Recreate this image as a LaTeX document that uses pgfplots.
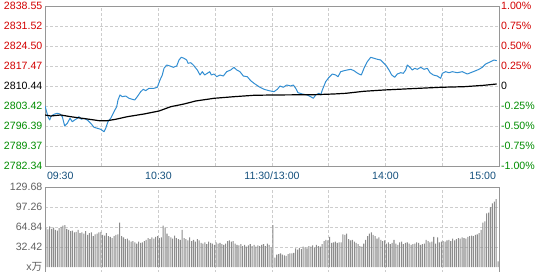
\documentclass[border=0pt]{standalone}
\usepackage{pgfplots}
\pgfplotsset{compat=1.18}
\usepackage{pgfplotstable}
\usepackage{fontspec}
\setmainfont{Liberation Sans}
\newfontfamily\cjk{Noto Sans CJK SC}
\definecolor{pred}{RGB}{210,0,0}
\definecolor{pgreen}{RGB}{0,140,0}
\definecolor{tblue}{RGB}{20,80,125}
\definecolor{lblue}{RGB}{50,142,210}
\definecolor{bgray}{RGB}{150,150,150}
\definecolor{ggray}{RGB}{205,205,205}
\definecolor{vgray}{RGB}{140,140,140}
\definecolor{lgray}{RGB}{96,96,96}

\pgfplotstableread{
m p
0.00 2803.42
1.59 2799.66
2.48 2798.50
3.33 2799.91
4.76 2800.51
6.50 2800.86
7.93 2800.61
9.15 2799.66
10.41 2796.39
11.79 2797.34
13.22 2799.10
14.43 2797.91
15.70 2798.50
17.08 2799.10
17.97 2799.66
19.19 2798.75
20.62 2799.10
22.36 2798.50
24.16 2797.34
25.90 2795.94
27.65 2795.59
29.44 2795.24
31.19 2794.39
32.09 2795.59
33.30 2797.91
34.73 2799.10
36.47 2801.42
37.90 2803.17
38.59 2805.53
39.65 2807.29
40.86 2806.69
42.66 2806.93
44.40 2806.12
46.15 2805.77
47.42 2805.53
48.79 2806.69
50.59 2808.44
51.96 2809.29
53.23 2808.80
54.98 2809.64
57.62 2809.64
59.37 2809.99
60.79 2812.55
62.01 2814.31
62.91 2816.66
64.34 2817.82
66.08 2817.47
67.82 2817.01
69.62 2817.47
70.84 2819.58
72.05 2820.53
73.48 2820.18
74.91 2819.58
75.60 2818.42
77.02 2818.63
78.40 2817.82
80.51 2816.07
81.94 2814.31
83.16 2815.47
84.42 2814.31
85.80 2814.91
87.07 2815.47
87.91 2814.31
89.34 2814.66
90.77 2813.71
92.51 2814.31
94.26 2813.95
96.05 2815.47
98.17 2816.07
99.91 2817.01
101.34 2816.07
103.08 2815.47
104.83 2813.95
106.94 2813.71
108.74 2812.31
110.49 2811.40
113.13 2810.20
115.77 2809.29
118.42 2808.80
121.06 2808.44
122.80 2809.29
124.23 2810.45
125.97 2809.99
127.77 2810.80
129.88 2810.45
131.26 2810.80
132.53 2809.64
133.74 2808.09
136.02 2807.64
138.66 2807.29
140.46 2806.69
141.83 2806.12
143.10 2807.29
144.85 2807.88
145.74 2807.29
146.59 2809.04
148.39 2811.96
150.13 2813.50
151.88 2814.66
153.68 2814.31
154.89 2813.71
156.32 2815.47
158.06 2815.82
159.81 2816.07
161.61 2816.31
163.35 2815.82
164.78 2815.12
166.00 2814.66
167.21 2814.31
168.64 2816.66
170.38 2818.98
172.18 2820.53
173.92 2820.18
175.67 2819.83
177.46 2819.58
178.84 2818.63
180.10 2817.82
181.85 2816.07
183.28 2814.31
184.86 2813.50
186.24 2814.66
188.03 2815.12
189.41 2814.91
190.68 2816.07
191.52 2817.82
192.95 2817.01
194.17 2816.07
195.43 2816.66
196.81 2816.31
198.61 2817.01
200.35 2816.31
202.10 2816.66
203.52 2815.12
205.27 2814.31
207.38 2813.95
209.18 2813.15
210.03 2814.91
211.82 2815.47
213.57 2815.12
215.31 2815.47
217.96 2815.12
220.60 2815.47
223.24 2814.66
225.04 2815.12
227.68 2815.82
229.43 2816.31
231.17 2817.01
232.97 2818.18
235.61 2818.98
237.36 2819.58
238.78 2819.33
}\priceline

\pgfplotstableread{
m p
0.00 2800.26
3.01 2799.91
8.30 2800.26
13.59 2799.66
22.36 2798.85
28.55 2798.26
32.93 2798.26
37.37 2798.75
43.51 2799.66
52.34 2800.61
60.26 2801.66
66.45 2803.17
73.48 2804.12
79.67 2805.18
89.34 2806.12
99.91 2806.69
110.49 2807.18
121.06 2807.29
142.21 2807.39
152.78 2807.64
159.12 2807.88
168.64 2808.59
179.21 2809.04
193.32 2809.50
209.18 2809.99
221.50 2810.20
232.07 2810.69
238.78 2811.15
}\avgline

\pgfplotstableread{
v
63
61
66
62
64
60
59
63
65
67
68
62
60
58
59
56
57
60
55
56
54
58
52
55
56
50
53
54
56
57
52
51
55
50
49
47
50
52
53
72
50
48
45
46
43
41
42
40
38
41
39
40
42
44
47
45
48
46
49
50
47
48
67
64
54
50
48
46
51
47
45
44
60
47
45
43
48
42
44
41
45
43
39
38
40
37
41
39
38
36
40
38
39
37
36
38
42
43
41
42
38
36
35
37
34
36
33
35
37
34
36
33
35
34
36
37
34
38
36
32
68
15
20
21
22
20
19
18
21
22
22
23
30
28
31
29
33
32
30
34
33
35
32
36
34
33
37
42
44
43
49
39
40
41
39
40
40
53
52
54
45
43
44
41
39
37
34
33
38
44
50
54
56
52
50
46
48
44
42
43
38
40
37
39
44
38
36
40
41
37
39
40
38
36
37
38
40
39
36
37
38
44
42
40
41
49
38
48
40
41
42
41
43
44
42
46
43
45
47
46
48
47
46
49
50
51
50
52
53
55
60
72
74
87
88
97
103
106
110
9
}\volume

\begin{document}
\begin{tikzpicture}
\useasboundingbox (-45bp,6bp) rectangle (492bp,-266bp);
\begin{axis}[
  at={(0,0)}, anchor=north west,
  scale only axis, width=454bp, height=160bp,
  xmin=0, xmax=240, ymin=2782.34, ymax=2838.55,
  xtick={0,30,...,240},
  xticklabels={\rlap{\hspace{2bp}09:30},,10:30,,11:30/13:00,,14:00,,\llap{15:00\hspace{3bp}}},
  ytick={2782.34,2789.37,2796.39,2803.42,2810.44,2817.47,2824.50,2831.52,2838.55},
  yticklabels={\textcolor{pgreen}{2782.34},\textcolor{pgreen}{2789.37},\textcolor{pgreen}{2796.39},\textcolor{pgreen}{2803.42},\textcolor{black}{2810.44},\textcolor{pred}{2817.47},\textcolor{pred}{2824.50},\textcolor{pred}{2831.52},\textcolor{pred}{2838.55}},
  grid=major,
  major grid style={ggray, dash pattern=on 3bp off 2bp, line width=0.6bp},
  major tick length=0pt,
  axis line style={bgray, line width=0.8bp},
  tick label style={font=\fontsize{10.6bp}{12bp}\selectfont},
  xticklabel style={text=tblue, yshift=-2.5bp},
  yticklabel style={inner sep=2.5bp},
]
\addplot[lblue, line width=1bp, line join=round] table[x=m, y=p] {\priceline};
\addplot[black, line width=1.2bp, line join=round] table[x=m, y=p] {\avgline};
\end{axis}
\begin{axis}[
  at={(0,0)}, anchor=north west,
  scale only axis, width=454bp, height=160bp,
  xmin=0, xmax=240, ymin=-1, ymax=1,
  axis x line=none, axis y line*=right,
  ytick={-1,-0.75,-0.5,-0.25,0,0.25,0.5,0.75,1},
  yticklabels={\textcolor{pgreen}{-1.00\%},\textcolor{pgreen}{-0.75\%},\textcolor{pgreen}{-0.50\%},\textcolor{pgreen}{-0.25\%},\textcolor{black}{0},\textcolor{pred}{0.25\%},\textcolor{pred}{0.50\%},\textcolor{pred}{0.75\%},\textcolor{pred}{1.00\%}},
  major tick length=0pt,
  axis line style={bgray, line width=0.8bp},
  tick label style={font=\fontsize{10.6bp}{12bp}\selectfont},
  yticklabel style={inner sep=2bp},
]
\addplot[draw=none] coordinates {(0,0)};
\end{axis}
\begin{axis}[
  at={(0,-181bp)}, anchor=north west,
  scale only axis, width=454bp, height=86bp,
  xmin=0, xmax=240, ymin=-9.73, ymax=129.68,
  xtick={30,60,...,210}, xticklabels={},
  ytick={32.42,64.84,97.26,129.68},
  yticklabels={32.42,64.84,97.26,129.68},
  extra y ticks={0}, extra y tick labels={x{\cjk 万}},
  extra y tick style={grid=none},
  grid=major,
  major grid style={ggray, dash pattern=on 3bp off 2bp, line width=0.6bp},
  major tick length=0pt,
  axis line style={bgray, line width=0.8bp},
  tick label style={font=\fontsize{10.6bp}{12bp}\selectfont, text=lgray},
  yticklabel style={inner sep=2.5bp},
]
\addplot[ybar, bar width=0.55, bar shift=0pt, draw=none, fill=vgray] table[x expr=\coordindex+0.5, y index=0] {\volume};
\end{axis}
\end{tikzpicture}
\end{document}
